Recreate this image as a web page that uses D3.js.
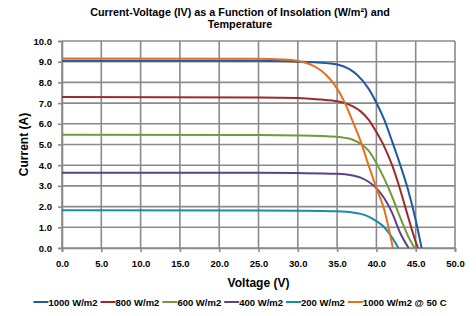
<!DOCTYPE html>
<html>
<head>
<meta charset="utf-8">
<script src="https://cdn.jsdelivr.net/npm/d3@7"></script>
<style>
  body { margin: 0; background: #fff; }
  text { font-family: "Liberation Sans", Arial, sans-serif; font-weight: bold; fill: #000; }
</style>
</head>
<body>
<div id="chart"></div>
<script>
// Series names (legend order)
var seriesNames = ["1000 W/m2", "800 W/m2", "600 W/m2", "400 W/m2", "200 W/m2", "1000 W/m2 @ 50 C"];
var seriesColors = ["#1F5A9E", "#9A2B2B", "#739A36", "#5B4388", "#1B89A8", "#E4701E"];

// IV points [voltage, current]
var iv1000 = [[0,9.05],[10,9.05],[20,9.05],[25,9.04],[30,9.0],[32.5,8.96],[35,8.86],[36.5,8.65],[37.5,8.38],[39,7.7],[40,7.02],[41,6.2],[42,5.15],[43,4.05],[44,2.85],[45,1.35],[45.75,0]];
var iv800 = [[0,7.29],[25,7.27],[30,7.25],[33,7.17],[35,7.09],[36,7.0],[37,6.84],[38,6.6],[39,6.2],[40,5.6],[41,4.9],[42,4.0],[43,2.85],[44,1.55],[45,0.3],[45.3,0]];
var iv600 = [[0,5.47],[25,5.46],[30,5.44],[35,5.37],[36,5.32],[37,5.23],[38,5.03],[39,4.7],[40,4.1],[41,3.35],[42,2.48],[43,1.5],[44,0.6],[44.85,0]];
var iv400 = [[0,3.64],[25,3.63],[30,3.62],[35,3.59],[37,3.5],[38,3.4],[39,3.2],[40,2.89],[41,2.4],[42,1.7],[43,0.75],[44.1,0]];
var iv200 = [[0,1.82],[25,1.81],[30,1.8],[35,1.77],[37,1.72],[38,1.65],[39,1.52],[40,1.3],[41,1.0],[42,0.5],[42.8,0]];
var iv1000hot = [[0,9.15],[25,9.14],[28,9.11],[30,9.04],[31,8.95],[32,8.8],[33,8.56],[34,8.2],[35,7.7],[36,7.0],[37,6.1],[38,5.15],[39,4.0],[40,2.9],[41,1.85],[42.1,0]];
var allSeries = [iv1000, iv800, iv600, iv400, iv200, iv1000hot];

// Tick values
var xTicks = [0, 5, 10, 15, 20, 25, 30, 35, 40, 45, 50];
var yTicks = [0, 1, 2, 3, 4, 5, 6, 7, 8, 9, 10];

var W = 476, H = 316;
var margin = {top: 41, right: 21, bottom: 68, left: 62},
  width = W - margin.left - margin.right,
  height = H - margin.top - margin.bottom;

var root = d3.select("#chart")
  .append("svg")
  .attr("width", W)
  .attr("height", H);

var svg = root.append("g")
  .attr("transform", "translate(" + margin.left + "," + margin.top + ")");

var x = d3.scaleLinear().domain([0, 50]).range([0, width]);
var y = d3.scaleLinear().domain([0, 10]).range([height, 0]);

// Grid lines
svg.append("g")
  .selectAll("line")
  .data(xTicks)
  .enter().append("line")
  .attr("x1", d => x(d)).attr("x2", d => x(d))
  .attr("y1", 0).attr("y2", height)
  .attr("stroke", "#8a8a8a").attr("stroke-width", 1.6);
svg.append("g")
  .selectAll("line")
  .data(yTicks)
  .enter().append("line")
  .attr("x1", 0).attr("x2", width)
  .attr("y1", d => y(d)).attr("y2", d => y(d))
  .attr("stroke", "#8a8a8a").attr("stroke-width", 1.6);

// Axes
var xAxis = svg.append("g")
  .attr("transform", "translate(0," + height + ")")
  .call(d3.axisBottom(x).tickValues(xTicks).tickFormat(d3.format(".1f")).tickSize(4).tickPadding(8));
var yAxis = svg.append("g")
  .call(d3.axisLeft(y).tickValues(yTicks).tickFormat(d3.format(".1f")).tickSize(4).tickPadding(6));
[xAxis, yAxis].forEach(function (a) {
  a.select(".domain").attr("stroke", "#8a8a8a").attr("stroke-width", 1.6);
  a.selectAll(".tick line").attr("stroke", "#8a8a8a").attr("stroke-width", 1.6);
  a.selectAll(".tick text")
    .style("font-family", "'Liberation Sans', Arial, sans-serif")
    .style("font-weight", "bold")
    .style("font-size", "9.5px")
    .attr("fill", "#000");
});

// Curves
var line = d3.line()
  .x(d => x(d[0]))
  .y(d => y(d[1]))
  .curve(d3.curveMonotoneX);

svg.append("g")
  .selectAll("path")
  .data(allSeries)
  .enter().append("path")
  .attr("d", line)
  .attr("fill", "none")
  .attr("stroke", (d, i) => seriesColors[i])
  .attr("stroke-width", 2);

// Titles
root.append("text")
  .attr("x", 240).attr("y", 16)
  .attr("text-anchor", "middle")
  .style("font-size", "10.8px")
  .text("Current-Voltage (IV) as a Function of Insolation (W/m²) and");
root.append("text")
  .attr("x", 240).attr("y", 28)
  .attr("text-anchor", "middle")
  .style("font-size", "10.8px")
  .text("Temperature");

root.append("text")
  .attr("x", margin.left + width / 2).attr("y", 287)
  .attr("text-anchor", "middle")
  .style("font-size", "12px")
  .text("Voltage (V)");

root.append("text")
  .attr("transform", "translate(28," + (margin.top + height / 2) + ") rotate(-90)")
  .attr("text-anchor", "middle")
  .style("font-size", "12px")
  .text("Current (A)");

// Legend
var legend = root.append("g");
var lx = 0;
seriesNames.forEach(function (name, i) {
  var item = legend.append("g").attr("transform", "translate(" + lx + ",0)");
  item.append("line")
    .attr("x1", 0).attr("x2", 15)
    .attr("y1", 0).attr("y2", 0)
    .attr("stroke", seriesColors[i]).attr("stroke-width", 2);
  var t = item.append("text")
    .attr("x", 15).attr("y", 3.5)
    .style("font-size", "9.5px")
    .text(name);
  lx += 15 + t.node().getComputedTextLength() + 3;
});
legend.attr("transform", "translate(" + (240 - (lx - 3) / 2) + ",302)");
</script>
</body>
</html>
